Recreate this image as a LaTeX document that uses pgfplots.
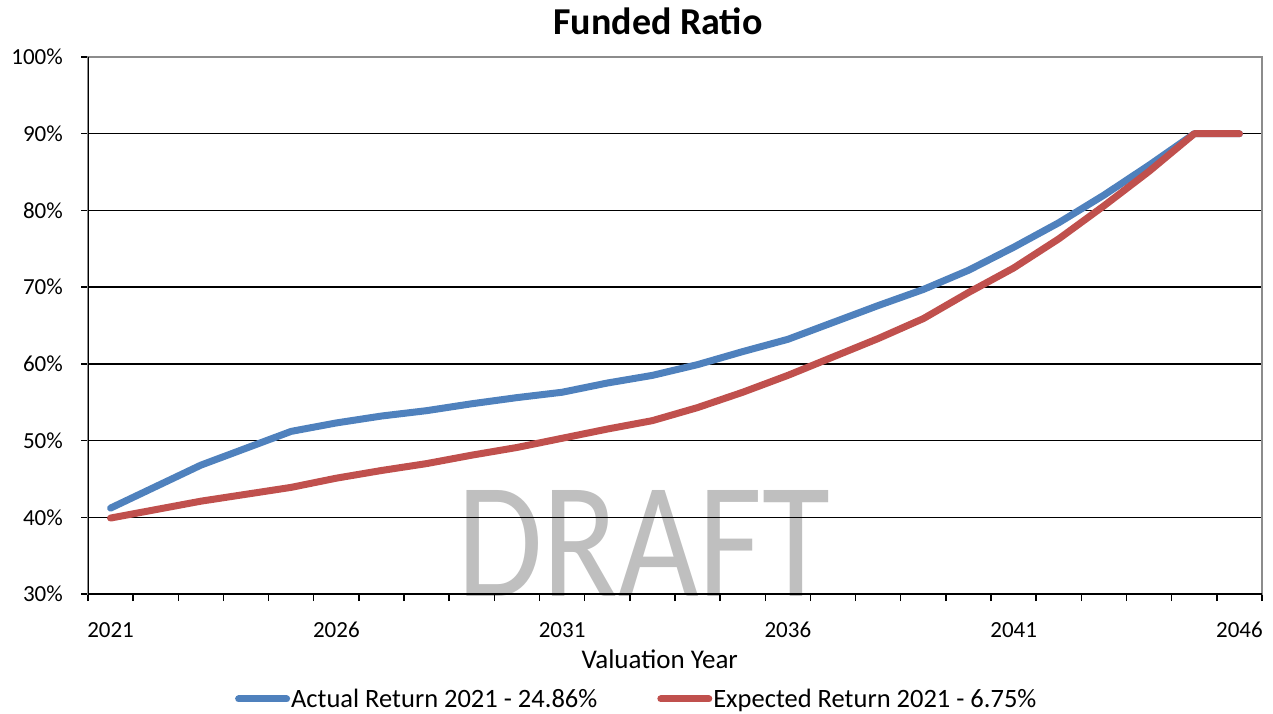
\documentclass[border=0pt]{standalone}
\usepackage{graphicx}
\usepackage{fontspec}
\setmainfont{Carlito}
\usepackage{pgfplots}
\pgfplotsset{compat=1.18}
\definecolor{blueL}{HTML}{4F81BD}
\definecolor{redL}{HTML}{C0504D}
\definecolor{draftgray}{HTML}{BFBFBF}
\begin{document}
\begin{tikzpicture}
\useasboundingbox (0,0) rectangle (1273pt,713pt);
\node[anchor=south west, inner sep=0pt, text=draftgray] at (457pt,116pt) {\resizebox{373pt}{106pt}{DRAFT}};
\begin{axis}[
  scale only axis, width=1174pt, height=537pt,
  at={(88pt,119pt)}, anchor=south west,
  xmin=2020.5, xmax=2046.5, ymin=30, ymax=100,
  xtick={2021,2026,2031,2036,2041,2046},
  xticklabels={2021,2026,2031,2036,2041,2046},
  minor xtick={2020.5,2021.5,...,2046.5},
  ytick={30,40,...,100},
  xtick pos=bottom, ytick pos=left,
  yticklabel={\pgfmathprintnumber{\tick}\%},
  /pgf/number format/assume math mode=true,
  tick align=outside,
  major tick length=7pt, minor tick length=7pt,
  x tick style={draw=none},
  minor x tick style={draw=black, line width=1.5pt},
  y tick style={draw=black, line width=1.5pt},
  xticklabel style={font=\fontsize{23}{26}\selectfont, inner sep=0pt, yshift=-21pt},
  yticklabel style={font=\fontsize{23}{26}\selectfont, inner sep=0pt, xshift=-18pt},
  ymajorgrids, major grid style={black, line width=1.5pt},
  axis line style={draw=black!45, line width=1.5pt},
  title={Funded Ratio},
  title style={font=\bfseries\fontsize{38}{42}\selectfont, at={(rel axis cs:0.4855,1)}, anchor=base, yshift=17pt, inner sep=0pt},
  xlabel={Valuation Year},
  xlabel style={font=\fontsize{27}{30}\selectfont, at={(rel axis cs:0.487,0)}, anchor=base, yshift=-74pt, inner sep=0pt},
  legend columns=2,
  legend style={at={(rel axis cs:0.467,-0.1955)}, anchor=center, draw=none, fill=none,
    font=\fontsize{26.5}{30}\selectfont,
    /tikz/every even column/.append style={column sep=59pt},
    nodes={inner sep=1pt}},
  legend image code/.code={\draw[#1, line width=7pt, line cap=round] (0pt,0pt) -- (48pt,0pt);},
  legend cell align=left,
]
\addplot[blueL, line width=7pt, line join=round, line cap=round] coordinates {
(2021,41.2) (2022,44.0) (2023,46.8) (2024,49.0) (2025,51.2) (2026,52.3) (2027,53.2) (2028,53.9) (2029,54.8) (2030,55.6) (2031,56.3) (2032,57.5) (2033,58.5) (2034,59.9) (2035,61.6) (2036,63.2) (2037,65.4) (2038,67.6) (2039,69.7) (2040,72.2) (2041,75.2) (2042,78.4) (2043,82.0) (2044,85.9) (2045,90.0) (2046,90.0)
};
\addlegendentry{Actual Return 2021 - 24.86\%}
\addplot[redL, line width=7pt, line join=round, line cap=round] coordinates {
(2021,39.9) (2022,41.0) (2023,42.1) (2024,43.0) (2025,43.9) (2026,45.1) (2027,46.1) (2028,47.0) (2029,48.1) (2030,49.1) (2031,50.3) (2032,51.5) (2033,52.6) (2034,54.3) (2035,56.3) (2036,58.5) (2037,60.9) (2038,63.3) (2039,65.9) (2040,69.3) (2041,72.5) (2042,76.3) (2043,80.6) (2044,85.1) (2045,90.0) (2046,90.0)
};
\addlegendentry{Expected Return 2021 - 6.75\%}
\draw[black, line width=1.5pt] (rel axis cs:0,0) -- (rel axis cs:1,0);
\draw[black, line width=1.5pt] (rel axis cs:0,0) -- (rel axis cs:0,1);
\end{axis}
\end{tikzpicture}
\end{document}
